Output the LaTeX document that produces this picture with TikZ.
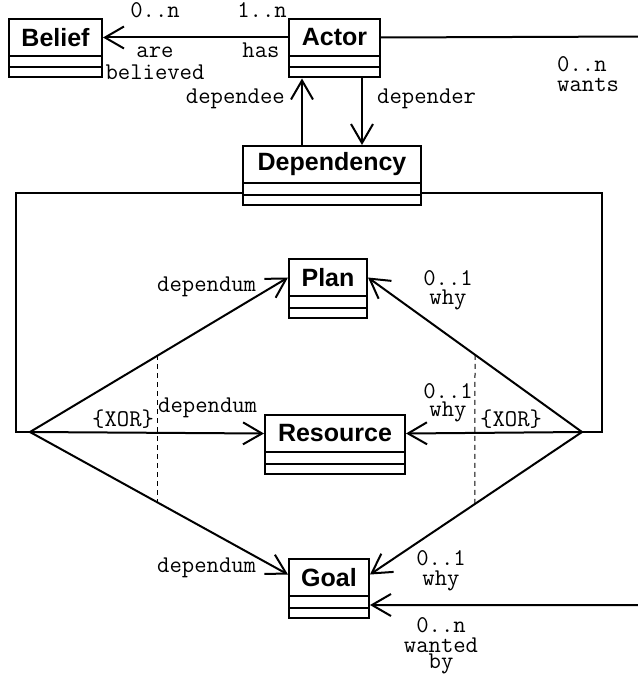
\documentclass[tikz,border=0pt]{standalone}
\usepackage{fontspec}
\newfontfamily\arialf{Liberation Sans}
\usetikzlibrary{arrows.meta,calc}
\newcommand\umlcls[5]{%
  \node[clsbox, minimum width=#5pt, anchor=north west] (#1) at (#3,#4) {};
  \node[clsname, minimum width=#5pt, anchor=north west] (#1N) at (#3,#4) {#2};
  \draw[lw] ([yshift=-10.5pt]#1N.south west) -- ([yshift=-10.5pt]#1N.south east);
}
\begin{document}
\begin{tikzpicture}[x=1pt,y=-1pt,
  lw/.style={line width=2pt},
  clsbox/.style={draw, line width=2pt, inner sep=0pt, minimum height=58.5pt},
  clsname/.style={draw, line width=2pt, inner sep=0pt, minimum height=37pt,
    font=\arialf\bfseries\fontsize{25}{25}\selectfont},
  arr/.style={line width=2pt, -{Straight Barb[length=19pt,width=22pt,line width=2pt]}},
  lbl/.style={font=\ttfamily\fontsize{24}{19}\selectfont, inner sep=0pt, align=center},
  xorline/.style={line width=1pt, dash pattern=on 5pt off 4pt}]
\useasboundingbox (0,0) rectangle (637,679);

\umlcls{belief}{Belief}{8}{18}{93}
\umlcls{actor}{Actor}{288}{18}{91}
\umlcls{dependency}{Dependency}{242}{145}{178}
\umlcls{plan}{Plan}{288}{258}{78}
\umlcls{resource}{Resource}{264}{414}{140}
\umlcls{goal}{Goal}{288}{558}{80}

% Actor - Belief
\draw[arr] (actorN.west) -- (beliefN.east);
% dependee / depender
\coordinate (xdee) at (302,0);
\coordinate (xder) at (362,0);
\draw[arr] (xdee |- dependency.north) -- (xdee |- actor.south);
\draw[arr] (xder |- actor.south) -- (xder |- dependency.north);
% wants / wanted by
\coordinate (wtop) at (645,36.5);
\coordinate (wbot) at (645,605);
\draw[arr] (actorN.east) -- (wtop) -- (wbot) -- (goal.east |- wbot);

% dependency side links
\coordinate (dlt) at (16,192.5);
\coordinate (dlb) at (16,432);
\coordinate (lap) at (30,432);
\coordinate (drt) at (602,192.5);
\coordinate (drb) at (602,432);
\coordinate (rap) at (582,432);
\draw[lw] (dependency.west |- dlt) -- (dlt) -- (dlb) -- (lap);
\draw[lw] (dependency.east |- drt) -- (drt) -- (drb) -- (rap);

% fans
\draw[arr] (lap) -- (planN.west);
\draw[arr] (lap) -- (resourceN.west);
\draw[arr] (lap) -- ([yshift=3pt]goalN.west);
\draw[arr] (rap) -- (planN.east);
\draw[arr] (rap) -- (resourceN.east);
\draw[arr] (rap) -- ([yshift=3pt]goalN.east);

% XOR dashed lines
\draw[xorline] ($(lap)!0.4961!(planN.west)$) -- ($(lap)!0.4961!([yshift=3pt]goalN.west)$);
\draw[xorline] ($(rap)!0.5!(planN.east)$) -- ($(rap)!0.505!([yshift=3pt]goalN.east)$);

% labels
\node[lbl, anchor=base] (m1) at (155,18) {0..n};
\node[lbl, anchor=base] (m2) at (262,18) {1..n};
\node[lbl, anchor=base] (r1) at (155,80) {are\\[3pt]believed};
\node[lbl, anchor=base] (r3) at (261,58) {has};
\node[lbl, anchor=base east] (r4) at (285,104) {dependee};
\node[lbl, anchor=base west] (r5) at (377,104) {depender};
\node[lbl, anchor=base west, align=left] (m3) at (557,92) {0..n\\[1pt]wants};
\node[lbl, anchor=base west] (d1) at (157,291) {dependum};
\node[lbl, anchor=base west] (x1) at (92,426) {\{XOR\}};
\node[lbl, anchor=base west] (d2) at (158,412) {dependum};
\node[lbl, anchor=base] (m4) at (448,304) {0..1\\why};
\node[lbl, anchor=base] (m5) at (448,416) {0..1\\[-1pt]why};
\node[lbl, anchor=base west] (x2) at (480,426) {\{XOR\}};
\node[lbl, anchor=base west] (d3) at (157,572) {dependum};
\node[lbl, anchor=base] (m6) at (441,585) {0..1\\[1pt]why};
\node[lbl, anchor=base] (m7) at (441,668) {0..n\\[1pt]wanted\\[-3pt]by};
\end{tikzpicture}
\end{document}
